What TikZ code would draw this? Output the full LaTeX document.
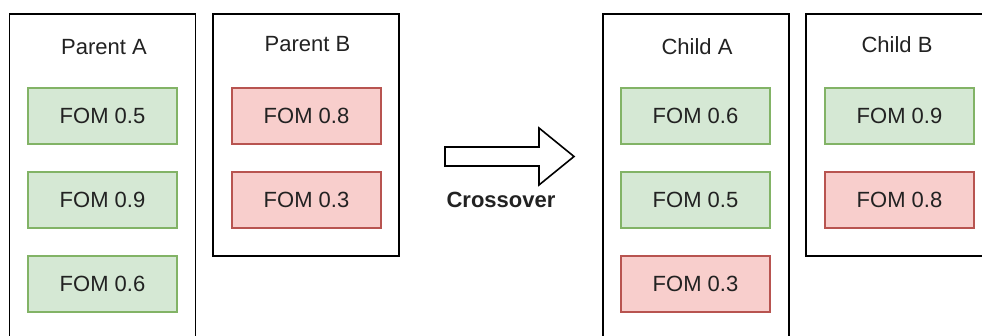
\documentclass[tikz,border=0pt]{standalone}
\usepackage{fontspec}
\setmainfont{Liberation Sans}
\definecolor{okfill}{HTML}{D5E8D4}
\definecolor{okline}{HTML}{82B366}
\definecolor{badfill}{HTML}{F8CECC}
\definecolor{badline}{HTML}{B85450}
\definecolor{ink}{HTML}{222222}
\tikzset{
  group/.style={draw=black, line width=1.8pt, fill=white, rectangle, minimum width=186pt, inner sep=0pt},
  title/.style={anchor=base, text=ink, font=\fontsize{22pt}{24pt}\selectfont},
  item/.style={rectangle, line width=1.6pt, minimum width=149pt, minimum height=56pt, inner sep=0pt,
               text=ink, font=\fontsize{22pt}{24pt}\selectfont},
  good/.style={item, draw=okline, fill=okfill},
  bad/.style={item, draw=badline, fill=badfill},
}
\begin{document}
\begin{tikzpicture}[x=1pt, y=-1pt]
\useasboundingbox (0,0) rectangle (982,336);
\clip (0,0) rectangle (982,336);

% parent groups
\node[group, minimum height=336pt] (pa) at (102.5,182) {};
\node[group, minimum height=242pt] (pb) at (306,135) {};
\node[title] (pat) at (104,55) {Parent A};
\node[title] (pbt) at (307.5,52) {Parent B};

\node[good] (pa1) at (102.5,116) {FOM 0.5};
\node[good] (pa2) at (102.5,200) {FOM 0.9};
\node[good] (pa3) at (102.5,284) {FOM 0.6};
\node[bad]  (pb1) at (306.5,116) {FOM 0.8};
\node[bad]  (pb2) at (306.5,200) {FOM 0.3};

% crossover arrow
\draw[line width=1.6pt, line join=miter, fill=white]
  (445,147) -- (539,147) -- (539,128) -- (574,156.5) -- (539,185) -- (539,166) -- (445,166) -- cycle;
\node[anchor=base, text=ink, font=\fontsize{22pt}{24pt}\selectfont\bfseries] (xo) at (501,208) {Crossover};

% child groups
\node[group, minimum height=336pt] (ca) at (696,182) {};
\node[group, minimum height=242pt] (cb) at (899,135) {};
\node[title] (cat) at (697,55) {Child A};
\node[title] (cbt) at (897,52.5) {Child B};

\node[good] (ca1) at (695.5,116) {FOM 0.6};
\node[good] (ca2) at (695.5,200) {FOM 0.5};
\node[bad]  (ca3) at (695.5,284) {FOM 0.3};
\node[good] (cb1) at (899.5,116) {FOM 0.9};
\node[bad]  (cb2) at (899.5,200) {FOM 0.8};
\end{tikzpicture}
\end{document}
